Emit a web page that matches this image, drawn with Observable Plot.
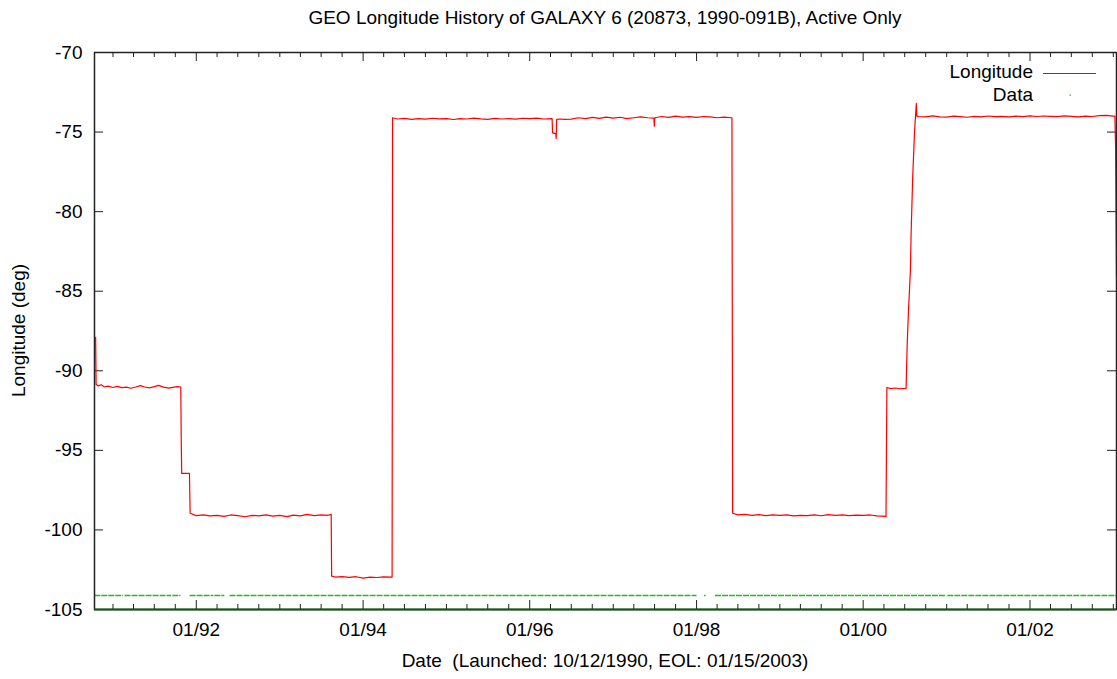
<!DOCTYPE html>
<html><head><meta charset="utf-8">
<script src="https://cdn.jsdelivr.net/npm/d3@7"></script>
<script src="https://cdn.jsdelivr.net/npm/@observablehq/plot@0.6"></script>
<style>body{margin:0;background:#fff} svg{display:block}</style>
</head><body><div id="chart"></div>
<script>
// ---- Longitude series (date, degrees) ----
const lonDates = [
 "1990-10-17","1990-10-19","1990-10-28","1990-11-10","1990-11-25","1990-12-10","1991-01-01","1991-01-20","1991-02-10","1991-03-01",
 "1991-03-20","1991-04-10","1991-05-01","1991-05-20","1991-06-10","1991-07-01","1991-07-20","1991-08-10","1991-09-01","1991-09-20",
 "1991-10-10","1991-10-25","1991-10-27","1991-10-29","1991-12-02","1991-12-05","1992-01-01","1992-02-01","1992-03-01","1992-04-01",
 "1992-05-01","1992-06-01","1992-07-01","1992-08-01","1992-09-01","1992-10-01","1992-11-01","1992-12-01","1993-01-01","1993-02-01",
 "1993-03-01","1993-04-01","1993-05-01","1993-06-01","1993-07-01","1993-08-01","1993-08-14","1993-08-16","1993-09-01","1993-10-01",
 "1993-11-01","1993-12-01","1994-01-01","1994-02-01","1994-03-01","1994-04-01","1994-05-08","1994-05-10","1994-06-01","1994-07-01",
 "1994-08-01","1994-09-01","1994-10-01","1994-11-01","1994-12-01","1995-01-01","1995-02-01","1995-03-01","1995-04-01","1995-05-01",
 "1995-06-01","1995-07-01","1995-08-01","1995-09-01","1995-10-01","1995-11-01","1995-12-01","1996-01-01","1996-02-01","1996-03-01",
 "1996-04-08","1996-04-10","1996-04-24","1996-04-26","1996-04-28","1996-05-15","1996-06-01","1996-07-01","1996-08-01","1996-09-01",
 "1996-10-01","1996-11-01","1996-12-01","1997-01-01","1997-02-01","1997-03-01","1997-04-01","1997-05-01","1997-06-01","1997-06-28",
 "1997-06-30","1997-07-02","1997-08-01","1997-09-01","1997-10-01","1997-11-01","1997-12-01","1998-01-01","1998-02-01","1998-03-01",
 "1998-04-01","1998-05-01","1998-06-05","1998-06-08","1998-07-01","1998-08-01","1998-09-01","1998-10-01","1998-11-01","1998-12-01",
 "1999-01-01","1999-02-01","1999-03-01","1999-04-01","1999-05-01","1999-06-01","1999-07-01","1999-08-01","1999-09-01","1999-10-01",
 "1999-11-01","1999-12-01","2000-01-01","2000-02-01","2000-03-01","2000-04-10","2000-04-14","2000-05-01","2000-05-20","2000-06-10",
 "2000-07-07","2000-07-12","2000-07-17","2000-07-26","2000-07-29","2000-08-05","2000-08-13","2000-08-18","2000-08-21","2000-08-23",
 "2000-09-01","2000-10-01","2000-11-01","2000-12-01","2001-01-01","2001-02-01","2001-03-01","2001-04-01","2001-05-01","2001-06-01",
 "2001-07-01","2001-08-01","2001-09-01","2001-10-01","2001-11-01","2001-12-01","2002-01-01","2002-02-01","2002-03-01","2002-04-01",
 "2002-05-01","2002-06-01","2002-07-01","2002-08-01","2002-09-01","2002-10-01","2002-11-01","2002-12-01","2003-01-01","2003-01-08",
 "2003-01-11","2003-01-15"
];
const lonValues = [
 -87.90,-90.85,-90.95,-90.88,-91.02,-90.96,-91.05,-90.98,-91.06,-91.03,
 -91.10,-91.02,-90.93,-91.02,-91.07,-91.00,-90.92,-91.03,-91.09,-91.04,
 -91.00,-91.02,-94.30,-96.45,-96.45,-98.95,-99.10,-99.05,-99.12,-99.08,
 -99.15,-99.06,-99.10,-99.17,-99.08,-99.12,-99.05,-99.13,-99.09,-99.16,
 -99.07,-99.12,-99.02,-99.10,-99.05,-99.08,-99.02,-102.90,-102.96,-102.93,
 -102.98,-102.94,-103.03,-102.97,-102.99,-102.95,-102.97,-74.10,-74.18,-74.14,
 -74.20,-74.15,-74.19,-74.13,-74.17,-74.15,-74.21,-74.16,-74.18,-74.12,
 -74.17,-74.20,-74.14,-74.18,-74.15,-74.19,-74.13,-74.16,-74.12,-74.18,
 -74.15,-75.05,-75.10,-75.40,-74.20,-74.18,-74.20,-74.19,-74.10,-74.16,
 -74.08,-74.14,-74.06,-74.12,-74.07,-74.16,-74.10,-74.05,-74.10,-74.12,
 -74.63,-74.10,-74.02,-74.08,-74.00,-74.06,-74.03,-74.08,-74.02,-74.05,
 -74.10,-74.06,-74.10,-98.95,-99.05,-99.02,-99.08,-99.04,-99.10,-99.06,
 -99.09,-99.05,-99.12,-99.08,-99.10,-99.06,-99.11,-99.04,-99.08,-99.05,
 -99.10,-99.07,-99.09,-99.06,-99.12,-99.15,-91.05,-91.12,-91.08,-91.13,
 -91.10,-88.30,-86.40,-83.70,-81.40,-77.85,-75.00,-73.83,-73.20,-74.00,
 -74.02,-74.05,-73.98,-74.04,-74.06,-74.00,-74.03,-74.07,-74.01,-74.04,
 -73.99,-74.03,-74.01,-74.05,-74.00,-74.03,-73.98,-74.02,-73.99,-74.01,
 -74.03,-73.98,-74.01,-74.04,-74.00,-74.02,-73.97,-73.95,-74.00,-74.00,
 -75.95,-84.00
];

// ---- "Data" availability intervals (plotted at a fixed level) ----
const dataStarts = ["1990-10-13","1991-02-23","1991-09-20","1991-12-05","1992-03-22","1992-05-28","1998-02-05","1998-03-25","2001-01-06"];
const dataEnds   = ["1991-02-17","1991-09-15","1991-10-26","1992-03-18","1992-05-05","1998-01-03","1998-02-12","2001-01-01","2003-01-15"];
const dataLevel = -104.12;

// ---- Axes ----
const xDomain = ["1990-10-12","2003-01-15"];
const yDomain = [-105, -70];
const xMajorTicks = ["1992-01-01","1994-01-01","1996-01-01","1998-01-01","2000-01-01","2002-01-01"];
const xTickLabels = ["01/92","01/94","01/96","01/98","01/00","01/02"];
const xMinorTicks = [
 "1991-01-01","1991-04-01","1991-07-01","1991-10-01",
 "1992-04-01","1992-07-01","1992-10-01","1993-01-01","1993-04-01","1993-07-01","1993-10-01",
 "1994-04-01","1994-07-01","1994-10-01","1995-01-01","1995-04-01","1995-07-01","1995-10-01",
 "1996-04-01","1996-07-01","1996-10-01","1997-01-01","1997-04-01","1997-07-01","1997-10-01",
 "1998-04-01","1998-07-01","1998-10-01","1999-01-01","1999-04-01","1999-07-01","1999-10-01",
 "2000-04-01","2000-07-01","2000-10-01","2001-01-01","2001-04-01","2001-07-01","2001-10-01",
 "2002-04-01","2002-07-01","2002-10-01","2003-01-01"
];
const yTicks = [-70,-75,-80,-85,-90,-95,-100,-105];

const titleText = "GEO Longitude History of GALAXY 6 (20873, 1990-091B), Active Only";
const xLabelText = "Date  (Launched: 10/12/1990, EOL: 01/15/2003)";
const yLabelText = "Longitude (deg)";
const legendNames = ["Longitude","Data"];

const parse = d3.utcParse("%Y-%m-%d");
const lonRows = lonDates.map((d,i)=>({date: parse(d), lon: lonValues[i]}));
const dataRows = dataStarts.map((s,i)=>({start: parse(s), end: parse(dataEnds[i])}));
const majors = xMajorTicks.map(parse);
const minors = xMinorTicks.map(parse);

const W = 1117, H = 679, ML = 94, MR = 1, MT = 52, MB = 70;
const FW = W - ML - MR, FH = H - MT - MB;
const FONT = "'Liberation Sans', Arial, Helvetica, sans-serif";
const tickColor = "#222";
const dataGreen = "#22bb22";

const plot = Plot.plot({
  width: W, height: H,
  marginLeft: ML, marginRight: MR, marginTop: MT, marginBottom: MB,
  style: {fontFamily: FONT, fontSize: "19px", background: "#fff", color: "#000"},
  x: {type: "utc", domain: xDomain.map(parse)},
  y: {domain: yDomain},
  marks: [
    Plot.axisY({ticks: yTicks, tickSize: 0, tickPadding: 12, label: null, fontSize: 19, tickFormat: d => String(d)}),
    Plot.axisX({ticks: majors, tickSize: 0, tickPadding: 13, label: null, fontSize: 19,
      tickFormat: d => xTickLabels[majors.findIndex(t => +t === +d)]}),
    // inward ticks, bottom & top, major & minor
    Plot.ruleX(majors, {x: d => d, insetTop: FH - 9, stroke: tickColor}),
    Plot.ruleX(majors, {x: d => d, insetBottom: FH - 9, stroke: tickColor}),
    Plot.ruleX(minors, {x: d => d, insetTop: FH - 5, stroke: tickColor}),
    Plot.ruleX(minors, {x: d => d, insetBottom: FH - 5, stroke: tickColor}),
    // inward y ticks left & right
    Plot.ruleY(yTicks, {y: d => d, insetRight: FW - 9, stroke: tickColor}),
    Plot.ruleY(yTicks, {y: d => d, insetLeft: FW - 9, stroke: tickColor}),
    // Data availability
    Plot.ruleY(dataRows, {y: () => dataLevel, x1: "start", x2: "end", stroke: dataGreen, strokeOpacity: 1, strokeWidth: 1.5, strokeDasharray: "6,1"}),
    // Longitude
    Plot.line(lonRows, {x: "date", y: "lon", stroke: "#ff0000", strokeWidth: 1.2, clip: true}),
    Plot.frame({stroke: "#222", strokeWidth: 1.5}),
    Plot.ruleY([yDomain[0]], {y: d => d, stroke: "#0d5c0d", strokeWidth: 2})
  ]
});

const svg = d3.select(plot);
svg.append("text").attr("x", ML + FW/2).attr("y", 24).attr("text-anchor", "middle")
  .style("font-family", FONT).style("font-size", "19px").text(titleText);
svg.append("text").attr("transform", `translate(25,${MT + FH/2}) rotate(-90)`).attr("text-anchor", "middle")
  .style("font-family", FONT).style("font-size", "19px").text(yLabelText);
svg.append("text").attr("x", ML + FW/2).attr("y", 667).attr("text-anchor", "middle")
  .attr("xml:space", "preserve").style("white-space", "pre")
  .style("font-family", FONT).style("font-size", "19px").text(xLabelText);
// legend
const lg = svg.append("g").style("font-family", FONT).style("font-size", "19px");
lg.append("text").attr("x", 1033).attr("y", 78).attr("text-anchor", "end").text(legendNames[0]);
lg.append("line").attr("x1", 1043).attr("x2", 1096).attr("y1", 73.5).attr("y2", 73.5).attr("stroke", "#ff0000").attr("stroke-width", 1.2);
lg.append("text").attr("x", 1033).attr("y", 101).attr("text-anchor", "end").text(legendNames[1]);
lg.append("rect").attr("x", 1069.5).attr("y", 94.5).attr("width", 1.5).attr("height", 1.2).attr("fill", dataGreen);

document.getElementById("chart").appendChild(plot);
</script>
</body></html>
